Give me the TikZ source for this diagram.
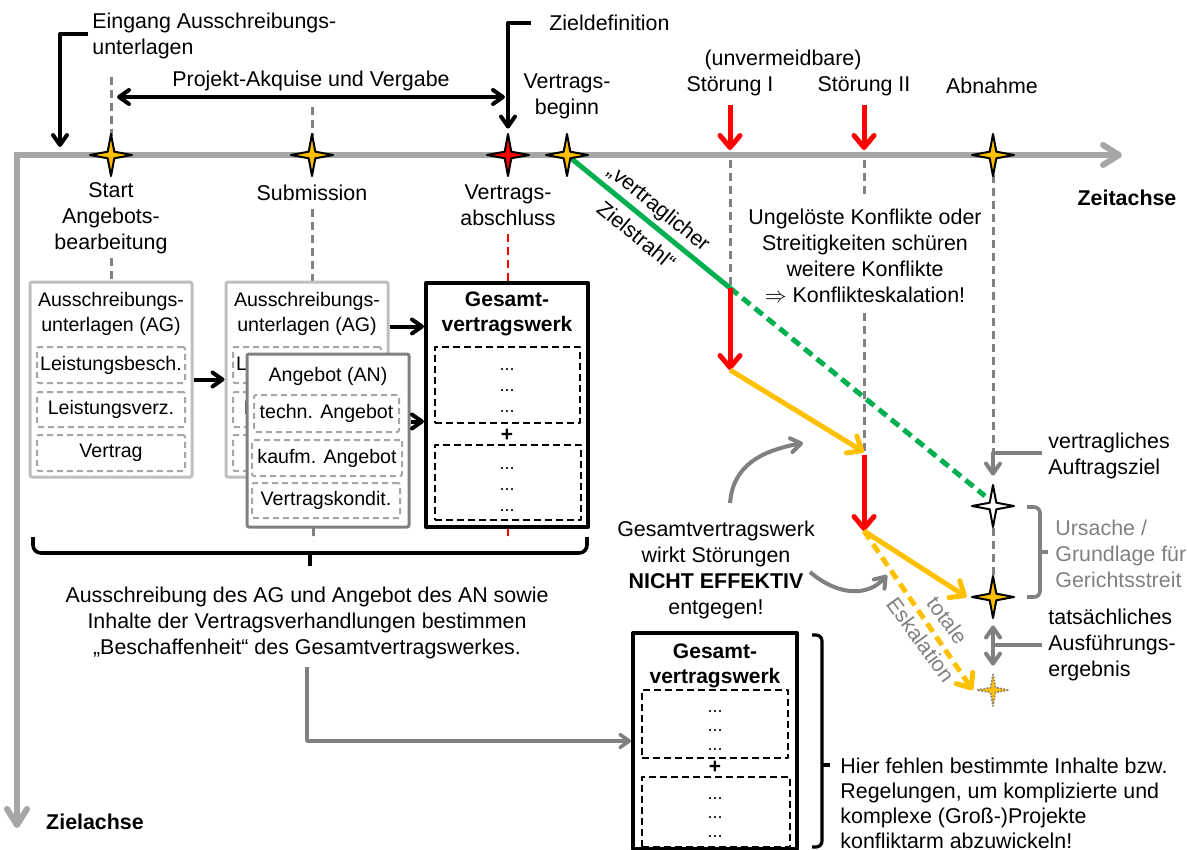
\documentclass[tikz,border=0pt]{standalone}
\usepackage{fontspec}
\setmainfont{Liberation Sans}
\usetikzlibrary{arrows.meta,shapes.geometric,calc}
\definecolor{axgray}{HTML}{A6A6A6}
\definecolor{dgray}{HTML}{808080}
\definecolor{lgray}{HTML}{BFBFBF}
\definecolor{mgray}{HTML}{A6A6A6}
\definecolor{ygold}{HTML}{FFC000}
\definecolor{grn}{HTML}{00B050}
\definecolor{rd}{HTML}{FF0000}
\newcommand\lblfont{\fontsize{10.7}{13}\selectfont}
\newcommand\bxfont{\fontsize{9.8}{12.5}\selectfont}
\newcommand\gwfont{\fontsize{10.5}{12.5}\selectfont\bfseries}
\newcommand\dotfont{\fontsize{9}{9}\selectfont}
\begin{document}
\begin{tikzpicture}[x=0.5pt,y=-0.5pt,line join=round,
  >={Straight Barb[length=1pt 2,width=2pt 2.5,round]},
  bigtip/.style={-{Straight Barb[length=6pt,width=10pt,round]}},
  lbl/.style={font=\lblfont,inner sep=0pt,align=center},
  blk/.style={black,line width=2pt},
  vdash/.style={dgray,line width=1.5pt,dash pattern=on 4pt off 2.5pt},
  rdash/.style={rd,line width=1.3pt,dash pattern=on 4pt off 2.5pt},
  gA/.style={dgray,line width=2pt},
  redA/.style={rd,line width=2.5pt,bigtip},
  yelA/.style={ygold,line width=2.5pt,bigtip},
  mstar/.style={star,star points=4,star point ratio=4.5,minimum size=21pt,
    inner sep=0pt,draw=black,line width=1pt,fill=ygold},
  boxA/.style={draw=lgray,line width=1.5pt,rounded corners=1pt,fill=white,inner sep=0pt},
  boxB/.style={draw=dgray,line width=1.5pt,rounded corners=1pt,fill=white,inner sep=0pt},
  dbox/.style={draw=mgray,line width=1pt,dash pattern=on 3pt off 2pt,rounded corners=1pt,
    font=\bxfont,inner sep=0pt},
  gbox/.style={draw=black,line width=2pt,fill=white,inner sep=0pt},
  gdash/.style={draw=black,line width=1.2pt,dash pattern=on 3.5pt off 2pt,inner sep=0pt},
  dots/.style={font=\dotfont,inner sep=0pt,anchor=base}
]
\useasboundingbox (0,0) rectangle (1187,850);

% --- axes ---
\coordinate (ax0) at (17,155);
\coordinate (axE) at (1122,155);
\coordinate (axS) at (17,828);
\draw[axgray,line width=3pt,line join=miter,
  {Straight Barb[length=8pt,width=10pt,round]}-{Straight Barb[length=8pt,width=10pt,round]}]
  (axE) -- (ax0) -- (axS);
\node[lbl,font=\lblfont\bfseries] (zeit) at (1127,198) {Zeitachse};
\node[lbl,font=\lblfont\bfseries] (zielax) at (95,822) {Zielachse};

% --- milestone labels ---
\node[lbl,anchor=west,align=left] (eing) at (92,36) {Eingang Ausschreibungs-\\unterlagen};
\node[lbl] (proj) at (311,81) {Projekt-Akquise und Vergabe};
\node[lbl,anchor=west] (zdef) at (549,23) {Zieldefinition};
\node[lbl] (vbeg) at (567,96) {Vertrags-\\beginn};
\node[lbl] (unv) at (783,60) {(unvermeidbare)};
\node[lbl] (st1) at (730,86) {Störung I};
\node[lbl] (st2) at (864,86) {Störung II};
\node[lbl] (abn) at (992,86) {Abnahme};
\node[lbl] (lstart) at (111,218) {Start\\Angebots-\\bearbeitung};
\node[lbl] (lsub) at (312,193) {Submission};
\node[lbl] (labs) at (508,205) {Vertrags-\\abschluss};

% --- helper points ---
\coordinate (eingA) at (88,34);
\coordinate (eingB) at (60,147);
\coordinate (pL) at (117,97);
\coordinate (pR) at (505,97);
\coordinate (zielA) at (531,23);
\coordinate (r1t) at (730,105);
\coordinate (r1b) at (730,150);
\coordinate (r2t) at (864,105);
\coordinate (r2b) at (864,150);
\coordinate (gj) at (730,288);
\coordinate (r1e) at (730,370);
\coordinate (k1) at (864,452);
\coordinate (k2) at (864,531);
\coordinate (gE) at (985,496);

% --- dashed guide lines ---
\draw[vdash] (111,77) -- (111,136);
\draw[vdash] (312,107) -- (312,136);
\draw[vdash] ([yshift=-2pt]lstart.south) -- (111,281);
\draw[vdash] ([yshift=-4pt]lsub.south) -- (312,281);
\draw[vdash] (313,528) -- (313,541);
\draw[rdash] ([yshift=-4pt]labs.south) -- (508,282);
\draw[rdash] (508,528) -- (508,541);
\draw[vdash] (730,160) -- (gj);
\draw[vdash] (864,160) -- (864,197);
\draw[vdash] (864,313) -- (k1);
\draw[vdash] (993,175) -- (993,453);
\draw[vdash] (993,528) -- (993,575);

% --- black arrows above the time axis ---
\draw[blk,->] (eingA) -| (eingB);
\draw[blk,<->] (pL) -- (pR);

% --- contractual target line and disturbances ---
\draw[grn,line width=2.5pt] (567,155) -- (gj);
\draw[grn,line width=2.5pt,dash pattern=on 5pt off 3pt] (gj) -- (gE);
\node[lbl,rotate=-39.2] (zs) at (648,221) {„vertraglicher\\[5pt]Zielstrahl“};
\draw[redA] (r1t) -- (r1b);
\draw[redA] (r2t) -- (r2b);
\draw[redA] (gj) -- (r1e);
\draw[yelA] (r1e) -- (k1);
\draw[redA] ([yshift=-1.5pt]k1) -- (k2);

% --- stars ---
\node[mstar] (s1) at (111,155) {};
\node[mstar] (s2) at (312,155) {};
\node[mstar,fill=rd] (s3) at (508,155) {};
\node[mstar] (s4) at (567,155) {};
\node[mstar] (s5) at (993,155) {};
\node[mstar,fill=white] (s6) at (993,506) {};
\node[mstar] (s7) at (993,597) {};
\node[mstar,minimum size=16pt,draw=dgray,line width=0.8pt,dash pattern=on 0.8pt off 0.8pt] (s8) at (993,690) {};

\draw[blk,->] (zielA) -| (s3.north);
\draw[yelA] (k2) -- (s7.west);
\draw[yelA,dash pattern=on 5pt off 3pt] (k2) -- (s8.west);
\node[lbl,rotate=-53.9,text=dgray] (te) at (934,630) {totale\\[3.5pt]Eskalation};

% --- right-hand annotations ---
\node[lbl] (un) at (865,256) {Ungelöste Konflikte oder\\Streitigkeiten schüren\\weitere Konflikte\\$\Rightarrow$ Konflikteskalation!};
\node[lbl,anchor=west,align=left] (ver) at (1048,456) {vertragliches\\Auftragsziel};
\node[lbl,anchor=west,align=left] (tat) at (1048,645) {tatsächliches\\Ausführungs-\\ergebnis};
\node[lbl,anchor=west,align=left,text=dgray] (urs) at (1055,554) {Ursache /\\Grundlage für\\Gerichtsstreit};
\draw[gA,->] (1042,453) -| ([yshift=2pt]s6.north);
\draw[gA,<->] ([yshift=-1pt]s7.south) -- ([yshift=2pt]s8.north);
\draw[gA] (993,645) -- (1042,645);
\draw[gA,line width=1.8pt,rounded corners=3pt] (1027,507) -| (1040,552) |- (1027,597);
\draw[gA,line width=1.8pt] (1040,552) -- (1048,552);

\node[lbl] (nt) at (716,570) {Gesamtvertragswerk\\wirkt Störungen\\\textbf{NICHT EFFEKTIV}\\entgegen!};
\coordinate (c1s) at (730,503);
\coordinate (c1e) at (803,443);
\coordinate (c2s) at (810,572);
\coordinate (c2e) at (887,575);
\draw[gA,->] (c1s) .. controls (733,466) and (760,451) .. (c1e);
\draw[gA,->] (c2s) .. controls (838,596) and (868,597) .. (c2e);

% --- tender documents ---
\node[boxA,minimum width=81pt,minimum height=97.5pt] (b1) at (111,379.5) {};
\node[lbl,font=\bxfont] (b1t) at (111,314) {Ausschreibungs-\\unterlagen (AG)};
\node[dbox,minimum width=74pt,minimum height=18pt] (b1a) at (111,365) {Leistungsbesch.};
\node[dbox,minimum width=74pt,minimum height=17.5pt] (b1b) at (111,409.5) {Leistungsverz.};
\node[dbox,minimum width=74pt,minimum height=18pt] (b1c) at (111,453) {Vertrag};

\node[boxA,minimum width=81pt,minimum height=97.5pt] (b2) at (307,379.5) {};
\node[lbl,font=\bxfont] (b2t) at (307,314) {Ausschreibungs-\\unterlagen (AG)};
\node[dbox,minimum width=74pt,minimum height=18pt] (b2a) at (307,365) {Leistungsbesch.};
\node[dbox,minimum width=74pt,minimum height=17.5pt] (b2b) at (307,409.5) {Leistungsverz.};
\node[dbox,minimum width=74pt,minimum height=18pt] (b2c) at (307,453) {Vertrag};

% --- offer ---
\node[boxB,minimum width=81pt,minimum height=86.5pt] (ang) at (328,440.5) {};
\node[lbl,font=\bxfont] (angt) at (328,376) {Angebot (AN)};
\node[dbox,minimum width=72.5pt,minimum height=18.5pt] (anga) at (326.5,413.5) {techn. Angebot};
\node[dbox,minimum width=75pt,minimum height=18pt] (angb) at (327,458) {kaufm. Angebot};
\node[dbox,minimum width=74pt,minimum height=17.5pt] (angc) at (326,500.5) {Vertragskondit.};

% --- overall contract ---
\node[gbox,minimum width=81pt,minimum height=122pt] (g1) at (507,405) {};
\node[lbl,font=\gwfont] (g1t) at (507,314) {Gesamt-\\vertragswerk};
\node[gdash,minimum width=72.5pt,minimum height=38pt] (g1a) at (507.5,385) {};
\node[gdash,minimum width=73pt,minimum height=37.5pt] (g1b) at (508,482.5) {};
\node[lbl,font=\gwfont] (g1p) at (507,435) {+};
\foreach \yy/\nm in {370/g1d1,391/g1d2,412/g1d3,469/g1d4,490/g1d5,511/g1d6}
  \node[dots] (\nm) at (507,\yy) {...};

\draw[blk,->] (b1.east) -- (b2.west);
\coordinate (a2) at ($(b2.north east)+(0,46)$);
\draw[blk,->] (a2) -- (a2 -| g1.west);
\coordinate (a3) at ($(ang.north east)+(0,69)$);
\draw[blk,->] (a3) -- (a3 -| g1.west);

% --- brace and summary text ---
\draw[blk,line width=1.8pt,rounded corners=4pt] (33,537) |- (310,553) -| (587,537);
\draw[blk,line width=1.8pt] (310,553) -- (310,566);
\node[lbl] (bt) at (307,623) {Ausschreibung des AG und Angebot des AN sowie\\Inhalte der Vertragsverhandlungen bestimmen\\„Beschaffenheit“ des Gesamtvertragswerkes.};

% --- overall contract, lower copy ---
\node[gbox,minimum width=82pt,minimum height=108pt] (g2) at (715,741) {};
\node[lbl,font=\gwfont] (g2t) at (715,666) {Gesamt-\\vertragswerk};
\node[gdash,minimum width=73pt,minimum height=34pt] (g2a) at (715,724) {};
\node[gdash,minimum width=74pt,minimum height=35pt] (g2b) at (716,812) {};
\node[lbl,font=\gwfont] (g2p) at (715,767) {+};
\foreach \yy/\nm in {712/g2d1,731/g2d2,750/g2d3,799/g2d4,818/g2d5,837/g2d6}
  \node[dots] (\nm) at (715,\yy) {...};
\draw[gA,line width=1.8pt,->] ([yshift=-4pt]bt.south) |- (g2.west);

\draw[blk,line width=1.6pt,rounded corners=3pt] (812,635) -| (822,765) |- (812,847);
\draw[blk,line width=1.6pt] (822,765) -- (830,765);
\node[lbl,anchor=west,align=left,font=\fontsize{10.7}{12.5}\selectfont] (hier) at (840,803) {Hier fehlen bestimmte Inhalte bzw.\\Regelungen, um komplizierte und\\komplexe (Groß-)Projekte\\konfliktarm abzuwickeln!};
\end{tikzpicture}
\end{document}
